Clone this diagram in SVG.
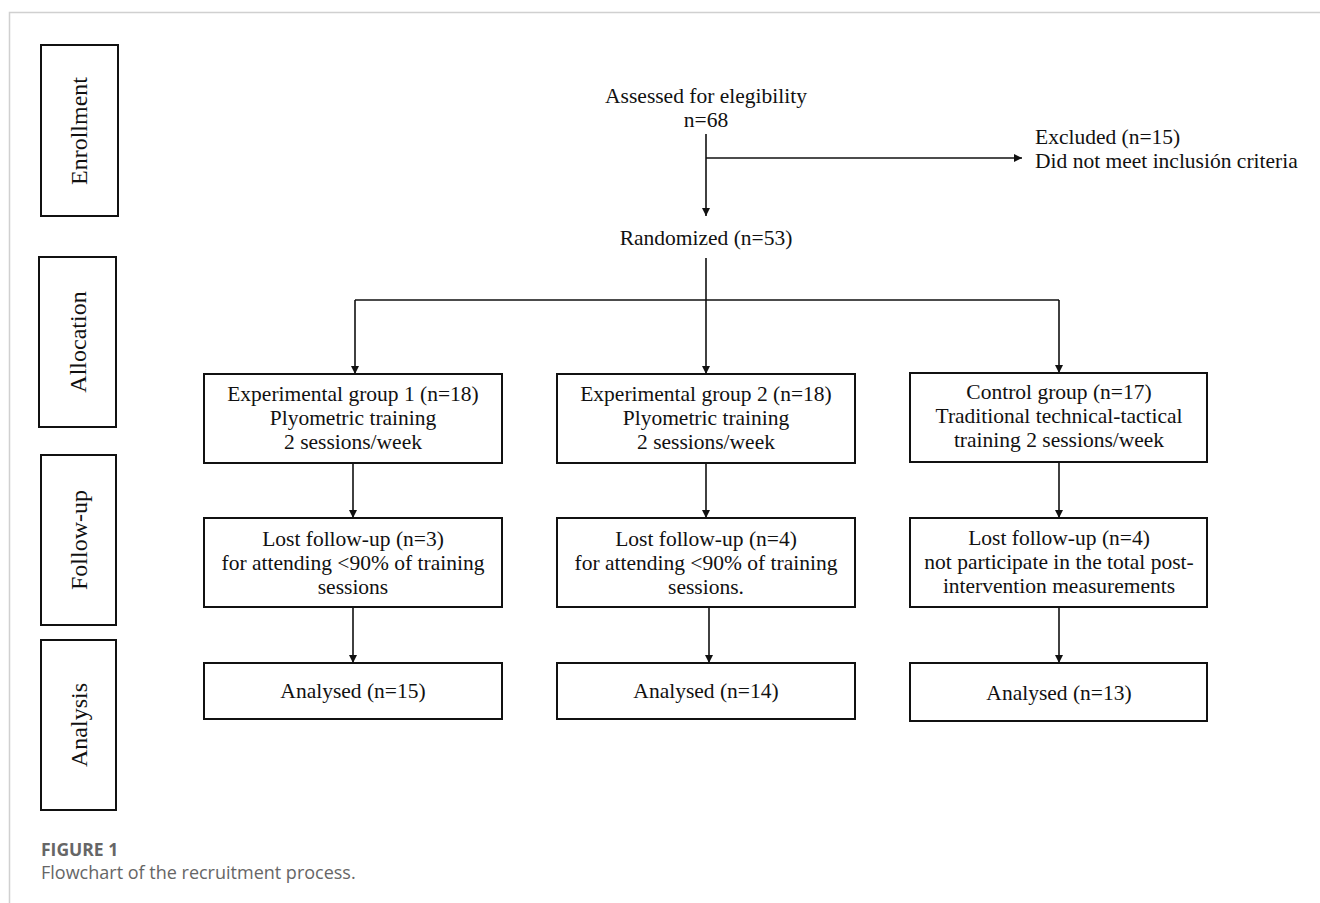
<svg xmlns="http://www.w3.org/2000/svg" width="1320" height="903" viewBox="0 0 1320 903">
<style>
.frame{fill:none;stroke:#d0d0d0;stroke-width:1.5}
.box{fill:#fff;stroke:#111;stroke-width:2}
.t{font-family:"Liberation Serif","Times New Roman",serif;font-size:21.5px;fill:#111;text-anchor:middle}
.tl{font-family:"Liberation Serif","Times New Roman",serif;font-size:21.5px;fill:#111}
.side{font-family:"Liberation Serif","Times New Roman",serif;font-size:24px;fill:#111;text-anchor:middle}
.ln{fill:none;stroke:#111;stroke-width:1.6}
.cap1{font-family:"Open Sans","Noto Sans",sans-serif;font-size:17.5px;font-weight:bold;fill:#666}
.cap2{font-family:"Open Sans","Noto Sans",sans-serif;font-size:18px;fill:#666}
</style>
<defs>
<marker id="ah" viewBox="0 0 10 10" refX="10" refY="5" markerWidth="8" markerHeight="8" markerUnits="userSpaceOnUse" orient="auto">
<path d="M0,0 L10,5 L0,10 z" fill="#111"/>
</marker>
</defs>
<rect width="1320" height="903" fill="#fff"/>
<path class="frame" d="M9.5,903 V12.5 H1320"/>

<g id="stage-enrollment"><rect class="box" x="41" y="45" width="77" height="171"/><text class="side" transform="translate(87,131) rotate(-90)">Enrollment</text></g>
<g id="stage-allocation"><rect class="box" x="39" y="257" width="77" height="170"/><text class="side" transform="translate(86,342) rotate(-90)">Allocation</text></g>
<g id="stage-followup"><rect class="box" x="41" y="455" width="75" height="170"/><text class="side" transform="translate(87,540) rotate(-90)">Follow-up</text></g>
<g id="stage-analysis"><rect class="box" x="41" y="640" width="75" height="170"/><text class="side" transform="translate(87,725) rotate(-90)">Analysis</text></g>

<g id="connectors">
<line class="ln" x1="706" y1="134" x2="706" y2="216" marker-end="url(#ah)"/>
<line class="ln" x1="706" y1="158" x2="1022" y2="158" marker-end="url(#ah)"/>
<line class="ln" x1="706" y1="258" x2="706" y2="374" marker-end="url(#ah)"/>
<line class="ln" x1="355" y1="300" x2="1059" y2="300"/>
<line class="ln" x1="355" y1="300" x2="355" y2="374" marker-end="url(#ah)"/>
<line class="ln" x1="1059" y1="300" x2="1059" y2="373" marker-end="url(#ah)"/>
<line class="ln" x1="353" y1="463" x2="353" y2="518" marker-end="url(#ah)"/>
<line class="ln" x1="706" y1="463" x2="706" y2="518" marker-end="url(#ah)"/>
<line class="ln" x1="1059" y1="462" x2="1059" y2="518" marker-end="url(#ah)"/>
<line class="ln" x1="353" y1="607" x2="353" y2="663" marker-end="url(#ah)"/>
<line class="ln" x1="709" y1="607" x2="709" y2="663" marker-end="url(#ah)"/>
<line class="ln" x1="1059" y1="607" x2="1059" y2="663" marker-end="url(#ah)"/>
</g>

<g id="assessed"><text class="t" x="706" y="103">Assessed for elegibility</text><text class="t" x="706" y="127">n=68</text></g>
<g id="excluded"><text class="tl" x="1035" y="144">Excluded  (n=15)</text><text class="tl" x="1035" y="168">Did not meet inclusión criteria</text></g>
<g id="randomized"><text class="t" x="706" y="245">Randomized (n=53)</text></g>

<g id="exp1"><rect class="box" x="204" y="374" width="298" height="89"/><text class="t" x="353" y="401">Experimental group 1 (n=18)</text><text class="t" x="353" y="425">Plyometric training</text><text class="t" x="353" y="449">2 sessions/week</text></g>
<g id="exp2"><rect class="box" x="557" y="374" width="298" height="89"/><text class="t" x="706" y="401">Experimental group 2 (n=18)</text><text class="t" x="706" y="425">Plyometric training</text><text class="t" x="706" y="449">2 sessions/week</text></g>
<g id="control"><rect class="box" x="910" y="373" width="297" height="89"/><text class="t" x="1059" y="399">Control group (n=17)</text><text class="t" x="1059" y="423">Traditional technical-tactical</text><text class="t" x="1059" y="447">training 2 sessions/week</text></g>

<g id="lost1"><rect class="box" x="204" y="518" width="298" height="89"/><text class="t" x="353" y="546">Lost follow-up (n=3)</text><text class="t" x="353" y="570">for attending &lt;90% of training</text><text class="t" x="353" y="594">sessions</text></g>
<g id="lost2"><rect class="box" x="557" y="518" width="298" height="89"/><text class="t" x="706" y="546">Lost follow-up (n=4)</text><text class="t" x="706" y="570">for attending &lt;90% of training</text><text class="t" x="706" y="594">sessions.</text></g>
<g id="lost3"><rect class="box" x="910" y="518" width="297" height="89"/><text class="t" x="1059" y="545">Lost follow-up (n=4)</text><text class="t" x="1059" y="569">not participate in the total post-</text><text class="t" x="1059" y="593">intervention measurements</text></g>

<g id="an1"><rect class="box" x="204" y="663" width="298" height="56"/><text class="t" x="353" y="698">Analysed (n=15)</text></g>
<g id="an2"><rect class="box" x="557" y="663" width="298" height="56"/><text class="t" x="706" y="698">Analysed (n=14)</text></g>
<g id="an3"><rect class="box" x="910" y="663" width="297" height="58"/><text class="t" x="1059" y="700">Analysed (n=13)</text></g>

<text class="cap1" x="41" y="856">FIGURE 1</text>
<text class="cap2" x="41" y="879">Flowchart of the recruitment process.</text>
</svg>
